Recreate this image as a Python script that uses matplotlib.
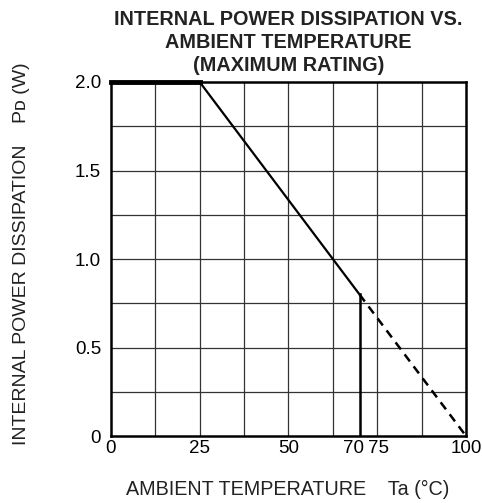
import matplotlib
matplotlib.use("Agg")
import matplotlib.pyplot as plt
import matplotlib.transforms as mtransforms
import numpy as np

plt.rcParams["font.family"] = ["Liberation Sans", "DejaVu Sans"]

# rated curve (solid) and derating beyond 70 degC (dashed)
temp_solid = [0, 25, 70]
power_solid = [2.0, 2.0, 0.8]
temp_cut = [70, 70]
power_cut = [0.8, 0.0]
temp_dash = [70, 100]
power_dash = [0.8, 0.0]

x_ticks = [0, 25, 50, 70, 75, 100]
x_labels = ["0", "25", "50", "70", "75", "100"]
y_ticks = [0, 0.5, 1.0, 1.5, 2.0]
y_labels = ["0", "0.5", "1.0", "1.5", "2.0"]

fig = plt.figure(figsize=(4.82, 5.03), dpi=100)
ax = fig.add_axes([0.230, 0.133, 0.737, 0.704])

# grid every 12.5 degC and 0.25 W
for gx in np.arange(12.5, 100, 12.5):
    ax.axvline(gx, color="#333333", lw=0.9, zorder=1)
for gy in np.arange(0.25, 2.0, 0.25):
    ax.axhline(gy, color="#333333", lw=0.9, zorder=1)

ax.plot(temp_solid, power_solid, color="black", lw=1.6, zorder=3, solid_capstyle="butt")
ax.plot(temp_cut, power_cut, color="black", lw=1.8, zorder=3)
ax.plot(temp_dash, power_dash, color="black", lw=1.8, ls=(0, (3.5, 2.5)), zorder=3)
ax.plot(temp_solid[:2], power_solid[:2], color="black", lw=3.5, zorder=4, clip_on=False)

ax.set_xlim(0, 100)
ax.set_ylim(0, 2.0)
ax.set_xticks(x_ticks)
ax.set_xticklabels(x_labels)
ax.set_yticks(y_ticks)
ax.set_yticklabels(y_labels)
ax.tick_params(length=0, labelsize=13.5, colors="black")
ax.tick_params(axis="x", pad=3)
ax.tick_params(axis="y", pad=7)

# "70" sits just left of its grid position so it does not run into "75"
for lab in ax.get_xticklabels():
    if lab.get_text() == "70":
        lab.set_transform(lab.get_transform() + mtransforms.ScaledTranslation(-6 / 100, 0, fig.dpi_scale_trans))
    elif lab.get_text() == "75":
        lab.set_transform(lab.get_transform() + mtransforms.ScaledTranslation(1 / 100, 0, fig.dpi_scale_trans))

for s in ax.spines.values():
    s.set_linewidth(1.8)
    s.set_color("black")

ax.set_title("INTERNAL POWER DISSIPATION VS.\nAMBIENT TEMPERATURE\n(MAXIMUM RATING)",
             fontsize=14.3, fontweight="bold", color="#222222", linespacing=1.25, pad=8)

fig.text(0.597, 0.026, "AMBIENT TEMPERATURE    Ta (°C)",
         ha="center", va="center", fontsize=14.2, color="#222222")
fig.text(0.045, 0.495, "INTERNAL POWER DISSIPATION    P\u1d05 (W)",
         ha="center", va="center", rotation=90, fontsize=14, color="#222222")

fig.savefig("out.png", dpi=100)
